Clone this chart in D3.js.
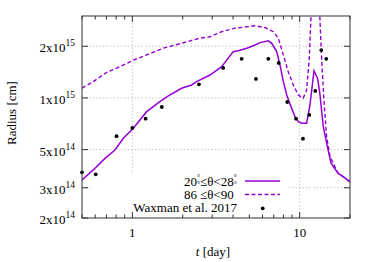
<!DOCTYPE html>
<html lang="en">
<head>
<meta charset="UTF-8">
<title>Radius vs t</title>
<script src="https://d3js.org/d3.v7.min.js"></script>
<style>
  body { margin: 0; background: #fff; }
  .grid { stroke: #b8b8b8; stroke-width: 0.8; stroke-dasharray: 1.5,2; fill: none; }
  .frame { fill: none; stroke: #333; stroke-width: 1; }
  .tick { stroke: #333; stroke-width: 1; }
  .solid { fill: none; stroke: #9400d3; stroke-width: 1.5; }
  .dashed { fill: none; stroke: #9400d3; stroke-width: 1.4; stroke-dasharray: 4,2.5; }
  .dot { fill: #000; }
</style>
</head>
<body>
<script>
// model curve, 20deg <= theta < 28deg  (t in days, R in cm)
var solidT = [0.5, 0.584, 0.686, 0.787, 0.883, 1.013, 1.218, 1.46, 1.64, 1.97,
              2.26, 2.42, 2.91, 3.42, 4.01, 4.30, 4.93, 5.41, 5.80, 6.5,
              6.81, 7.29, 7.63, 7.99, 8.37, 8.88, 9.38, 9.82, 10.28, 11.0,
              11.53, 12.18, 12.8, 13.2, 13.85, 14.5, 15.4, 17.0, 18.2, 20];
var solidR = [3.33, 3.81, 4.45, 4.98, 5.82, 6.66, 8.32, 9.51, 10.27, 11.39,
              11.9, 12.44, 13.6, 15.2, 18.6, 18.85, 19.6, 20.35, 21.0, 21.5,
              20.8, 18.6, 15.56, 12.44, 10.4, 8.9, 7.78, 7.28, 7.12, 7.12,
              9.1, 14.36, 13.0, 10.65, 6.8, 5.45, 4.17, 3.64, 3.48, 3.25].map(function(v) { return v * 1e14; });

// model curve, 86deg <= theta < 90deg
var dashT = [0.5, 0.584, 0.703, 0.843, 1.013, 1.218, 1.53, 1.93, 2.54, 2.91,
             3.42, 4.11, 4.93, 5.41, 6.2, 6.96, 7.45, 7.99, 8.55, 9.16,
             9.82, 10.5, 11.0, 11.4, 11.7, 12.0, 12.9, 13.2, 13.55, 14.0,
             14.5, 15.2, 17.0, 18.2, 20];
var dashR = [11.4, 12.44, 14.1, 15.2, 16.6, 17.8, 19.5, 20.7, 22.3, 22.7,
             24.3, 25.5, 26.0, 26.3, 25.7, 24.3, 22.3, 17.8, 14.2, 11.9,
             10.4, 9.96, 11.1, 16.6, 30, 45, 45, 30, 16.6, 9.35,
             5.95, 4.55, 3.64, 3.48, 3.25].map(function(v) { return v * 1e14; });

// Waxman et al. 2017 points
var obsT = [0.5, 0.604, 0.804, 1.0, 1.20, 1.50, 2.50, 3.49, 4.50, 5.48,
            6.5, 7.49, 8.43, 9.51, 10.47, 11.42, 12.4, 13.47, 14.43];
var obsR = [3.69, 3.59, 5.99, 6.69, 7.57, 8.86, 12.0, 14.95, 16.9, 12.9,
            16.9, 16.0, 9.47, 7.57, 5.79, 7.96, 10.99, 19.0, 16.9].map(function(v) { return v * 1e14; });

// axis ticks
var yTicks = [2e14, 3e14, 5e14, 1e15, 2e15];
var yMant = ["2", "3", "5", "1", "2"];
var yExp = ["14", "14", "14", "15", "15"];
var yGrid = [3e14, 5e14, 1e15, 2e15];
var xTicks = [1, 10];
var xLabels = ["1", "10"];
var xMinor = [0.5, 0.6, 0.7, 0.8, 0.9, 2, 3, 4, 5, 6, 7, 8, 9, 20];

var W = 374, H = 262;
var L = 82, R = 350, T = 16, B = 218;
var FONT = "'Liberation Serif', 'Times New Roman', serif";

var x = d3.scaleLog().domain([0.5, 20]).range([L, R]);
var y = d3.scaleLog().domain([2e14, 3e15]).range([B, T]);

var svg = d3.select("body").append("svg")
    .attr("width", W).attr("height", H)
    .style("font-family", FONT);

svg.append("defs").append("clipPath").attr("id", "clip")
  .append("rect").attr("x", L).attr("y", T).attr("width", R - L).attr("height", B - T);

// grid
svg.selectAll(".gy").data(yGrid).enter().append("line")
    .attr("class", "grid")
    .attr("x1", L).attr("x2", R)
    .attr("y1", function(d) { return y(d); }).attr("y2", function(d) { return y(d); });
svg.selectAll(".gx").data(xTicks).enter().append("line")
    .attr("class", "grid")
    .attr("y1", T).attr("y2", B)
    .attr("x1", function(d) { return x(d); }).attr("x2", function(d) { return x(d); });

// curves
var line = d3.line()
    .x(function(d) { return x(d[0]); })
    .y(function(d) { return y(d[1]); });

var plot = svg.append("g").attr("clip-path", "url(#clip)");
plot.append("path").attr("class", "dashed")
    .attr("d", line(d3.zip(dashT, dashR)));
plot.append("path").attr("class", "solid")
    .attr("d", line(d3.zip(solidT, solidR)));

// legend box (opaque, hides grid)
svg.append("rect").attr("x", 90).attr("y", 174).attr("width", 198).attr("height", B - 174 - 0.5)
    .attr("fill", "#fff");

svg.selectAll(".dot").data(d3.zip(obsT, obsR)).enter().append("circle")
    .attr("class", "dot")
    .attr("cx", function(d) { return x(d[0]); })
    .attr("cy", function(d) { return y(d[1]); })
    .attr("r", 1.9);

// frame and ticks
svg.append("rect").attr("class", "frame")
    .attr("x", L).attr("y", T).attr("width", R - L).attr("height", B - T);

var tk = svg.append("g");
yTicks.forEach(function(v) {
  tk.append("line").attr("class", "tick").attr("x1", L).attr("x2", L + 6).attr("y1", y(v)).attr("y2", y(v));
  tk.append("line").attr("class", "tick").attr("x1", R).attr("x2", R - 6).attr("y1", y(v)).attr("y2", y(v));
});
xTicks.forEach(function(v) {
  tk.append("line").attr("class", "tick").attr("x1", x(v)).attr("x2", x(v)).attr("y1", B).attr("y2", B - 6);
  tk.append("line").attr("class", "tick").attr("x1", x(v)).attr("x2", x(v)).attr("y1", T).attr("y2", T + 6);
});
xMinor.forEach(function(v) {
  tk.append("line").attr("class", "tick").attr("x1", x(v)).attr("x2", x(v)).attr("y1", B).attr("y2", B - 3.5);
  tk.append("line").attr("class", "tick").attr("x1", x(v)).attr("x2", x(v)).attr("y1", T).attr("y2", T + 3.5);
});

// y tick labels
yTicks.forEach(function(v, i) {
  var t = svg.append("text")
      .attr("x", 75).attr("y", y(v) + 6)
      .attr("text-anchor", "end")
      .style("font-family", FONT)
      .style("font-size", "13px");
  t.append("tspan").text(yMant[i] + "x10");
  t.append("tspan").attr("dy", -6).style("font-size", "9.5px").text(yExp[i]);
});

// x tick labels
xTicks.forEach(function(v, i) {
  svg.append("text")
      .attr("x", x(v)).attr("y", 237)
      .attr("text-anchor", "middle")
      .style("font-family", FONT)
      .style("font-size", "13px")
      .text(xLabels[i]);
});

// axis titles
var xt = svg.append("text").attr("x", 213).attr("y", 256)
    .attr("text-anchor", "middle").style("font-family", FONT).style("font-size", "13px");
xt.append("tspan").style("font-style", "italic").text("t");
xt.append("tspan").text(" [day]");

svg.append("text")
    .attr("transform", "translate(16,113) rotate(-90)")
    .attr("text-anchor", "middle")
    .style("font-family", FONT)
    .style("font-size", "13px")
    .text("Radius [cm]");

// legend
var lg = svg.append("g").style("font-family", FONT).style("font-size", "13px");
var l1 = lg.append("text").attr("x", 237).attr("y", 186).attr("text-anchor", "end");
l1.append("tspan").text("20");
l1.append("tspan").attr("dy", -6).style("font-size", "8px").text("°");
l1.append("tspan").attr("dy", 6).text("≤θ<28");
l1.append("tspan").attr("dy", -6).style("font-size", "8px").text("°");

var l2 = lg.append("text").attr("x", 237).attr("y", 199).attr("text-anchor", "end");
l2.append("tspan").text("86");
l2.append("tspan").attr("dy", -12).style("font-size", "8px").text("°");
l2.append("tspan").attr("dy", 12).text("≤θ<90");
l2.append("tspan").attr("dy", -12).style("font-size", "8px").text("°");

lg.append("text").attr("x", 237).attr("y", 212).attr("text-anchor", "end")
    .text("Waxman et al. 2017");

lg.append("line").attr("class", "solid").attr("x1", 245).attr("x2", 280).attr("y1", 181).attr("y2", 181);
lg.append("line").attr("class", "dashed").attr("x1", 245).attr("x2", 280).attr("y1", 194.5).attr("y2", 194.5);
lg.append("circle").attr("class", "dot").attr("cx", 262.7).attr("cy", 208.3).attr("r", 1.9);
</script>
</body>
</html>
